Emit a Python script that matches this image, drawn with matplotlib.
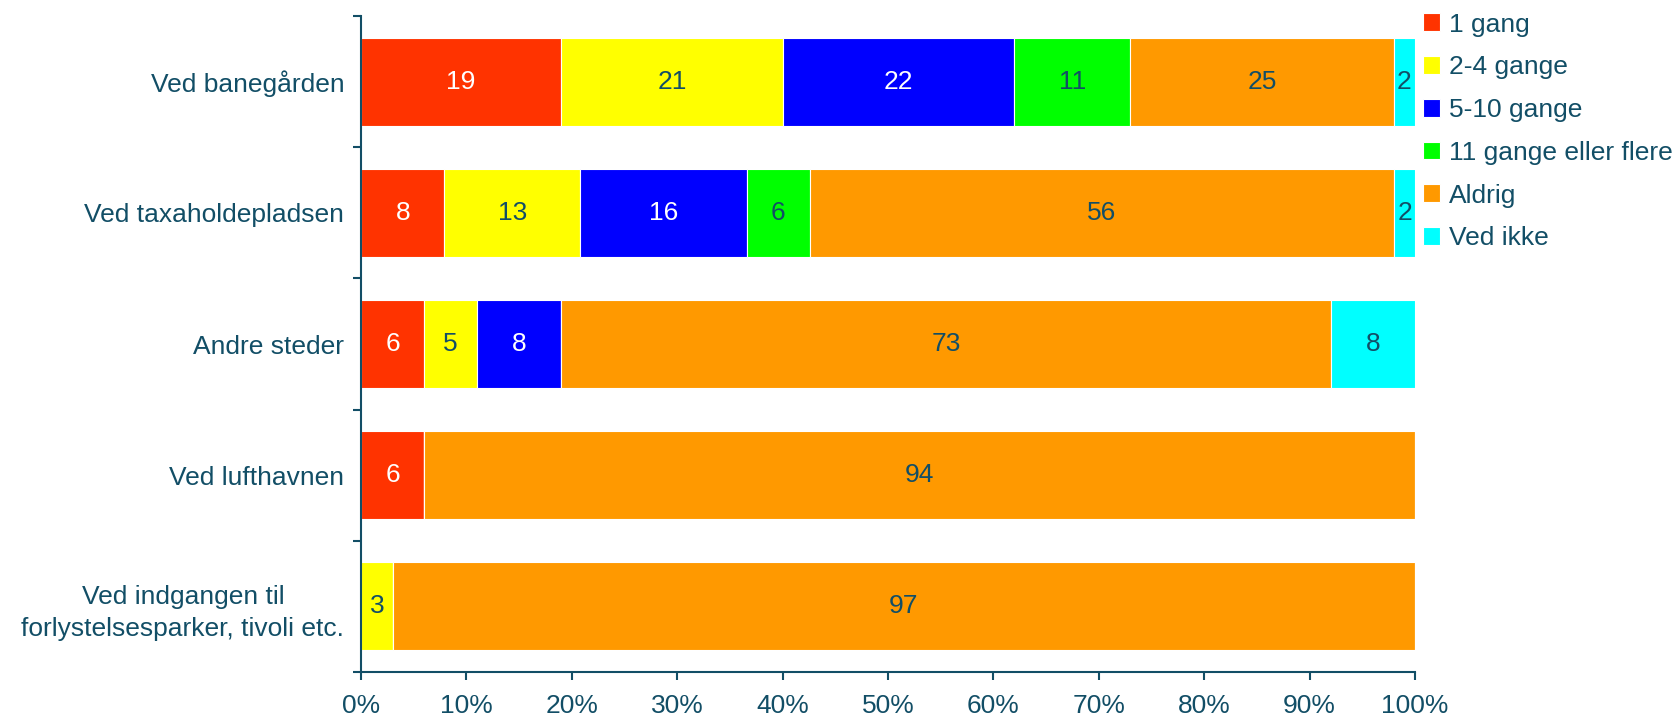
import numpy as np
from matplotlib import pyplot as plt
from matplotlib.ticker import FixedLocator, PercentFormatter

plt.rcParams["font.family"] = ["Liberation Sans", "DejaVu Sans"]

categories = [
    "Ved banegården",
    "Ved taxaholdepladsen",
    "Andre steder",
    "Ved lufthavnen",
    "Ved indgangen til\nforlystelsesparker, tivoli etc.",
]
series = ["1 gang", "2-4 gange", "5-10 gange", "11 gange eller flere", "Aldrig", "Ved ikke"]
values = {
    "1 gang": [19, 8, 6, 6, 0],
    "2-4 gange": [21, 13, 5, 0, 3],
    "5-10 gange": [22, 16, 8, 0, 0],
    "11 gange eller flere": [11, 6, 0, 0, 0],
    "Aldrig": [25, 56, 73, 94, 97],
    "Ved ikke": [2, 2, 8, 0, 0],
}
colors = ["#FF3300", "#FFFF00", "#0000FF", "#00FF00", "#FF9900", "#00FFFF"]
label_colors = ["white", "#124E66", "white", "#124E66", "#124E66", "#124E66"]
text_color = "#124E66"
fs = 19

W, H = 1674, 720
fig = plt.figure(figsize=(W / 100, H / 100), dpi=100)
ax = fig.add_axes([361 / W, (H - 672) / H, (1415 - 361) / W, (672 - 16) / H])

raw = np.array([values[s] for s in series], dtype=float)
share = raw / raw.sum(axis=0) * 100
y = np.arange(len(categories))
left = np.zeros(len(categories))
for i, name in enumerate(series):
    bars = ax.barh(y, share[i], left=left, height=0.67, color=colors[i],
                   edgecolor="white", linewidth=0.8, label=name)
    for j, b in enumerate(bars):
        if raw[i, j] > 0:
            ax.text(b.get_x() + b.get_width() / 2, b.get_y() + b.get_height() / 2,
                    f"{raw[i, j]:.0f}", ha="center", va="center",
                    fontsize=fs, color=label_colors[i])
    left += share[i]

ax.set_xlim(0, 100)
ax.set_ylim(len(categories) - 0.5, -0.5)
ax.xaxis.set_major_locator(FixedLocator(np.arange(0, 101, 10)))
ax.xaxis.set_major_formatter(PercentFormatter(decimals=0))
ax.set_yticks(y, categories, ha="right", multialignment="center")
for lbl in ax.get_yticklabels():
    lbl.set_linespacing(1.45)
ax.yaxis.set_minor_locator(FixedLocator(np.arange(-0.5, len(categories), 1)))
ax.tick_params(axis="y", which="major", length=0, pad=12, labelsize=fs, labelcolor=text_color)
ax.tick_params(axis="y", which="minor", length=6, width=1.5, color=text_color)
ax.tick_params(axis="x", length=6, width=1.5, color=text_color, labelsize=fs,
               labelcolor=text_color, pad=10)
for side in ["top", "right"]:
    ax.spines[side].set_visible(False)
for side in ["left", "bottom"]:
    ax.spines[side].set_color(text_color)
    ax.spines[side].set_linewidth(1.5)

fig.legend(loc="upper left", bbox_to_anchor=(1412 / W, 1 - 2 / H), frameon=False,
           fontsize=fs, labelcolor=text_color, handlelength=0.65, handleheight=0.65,
           handletextpad=0.35, labelspacing=0.71, borderaxespad=0)

plt.savefig("out.png", dpi=100)
plt.close()
